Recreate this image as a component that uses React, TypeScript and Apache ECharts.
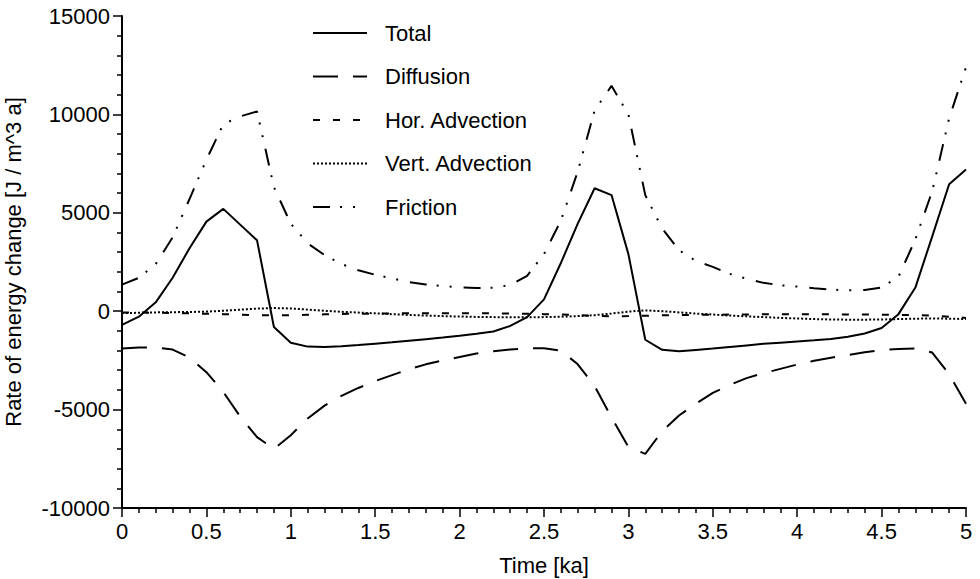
import React, { useEffect, useRef } from "react";
import * as echarts from "echarts";

// Time axis samples [ka]
const TIME = [
  0, 0.1, 0.2, 0.3, 0.4, 0.5, 0.6, 0.7, 0.8, 0.9,
  1.0, 1.1, 1.2, 1.3, 1.4, 1.5, 1.6, 1.7, 1.8, 1.9,
  2.0, 2.1, 2.2, 2.3, 2.4, 2.5, 2.6, 2.7, 2.8, 2.9,
  3.0, 3.1, 3.2, 3.3, 3.4, 3.5, 3.6, 3.7, 3.8, 3.9,
  4.0, 4.1, 4.2, 4.3, 4.4, 4.5, 4.6, 4.7, 4.8, 4.9,
  5.0,
];

// Rates of energy change [J / m^3 a]
const TOTAL = [
  -700, -280, 450, 1700, 3200, 4550, 5200, 4400, 3600, -800,
  -1600, -1800, -1820, -1780, -1720, -1650, -1580, -1500, -1420, -1340,
  -1250, -1150, -1030, -750, -300, 600, 2450, 4450, 6250, 5900,
  2900, -1450, -1960, -2040, -1970, -1900, -1820, -1740, -1660, -1600,
  -1540, -1480, -1410, -1300, -1130, -850, -150, 1200, 3800, 6450,
  7200,
];

const DIFFUSION = [
  -1900, -1840, -1850, -1950, -2350, -3100, -4100, -5350, -6400, -7000,
  -6300, -5450, -4800, -4300, -3900, -3550, -3250, -2950, -2700, -2500,
  -2330, -2150, -2030, -1950, -1880, -1880, -2000, -2700, -3800, -5400,
  -6900, -7250, -6100, -5300, -4700, -4150, -3750, -3400, -3150, -2930,
  -2710, -2520, -2360, -2230, -2090, -1980, -1920, -1900, -2100, -3200,
  -4700,
];

const HOR_ADVECTION = [
  -60, -70, -80, -90, -110, -130, -150, -180, -200, -210,
  -200, -180, -160, -140, -130, -120, -110, -100, -100, -100,
  -100, -100, -110, -120, -130, -150, -170, -200, -240, -260,
  -250, -230, -210, -200, -190, -180, -170, -170, -160, -160,
  -160, -160, -160, -170, -170, -180, -190, -200, -230, -280,
  -340,
];

const VERT_ADVECTION = [
  -100, -80, -60, -50, -40, -20, 20, 80, 130, 160,
  140, 80, 20, -30, -70, -110, -150, -190, -220, -250,
  -270, -290, -300, -310, -310, -300, -280, -250, -200, -120,
  -20, 40, 0, -60, -120, -170, -220, -260, -300, -340,
  -370, -400, -420, -430, -430, -420, -400, -380, -370, -380,
  -400,
];

const FRICTION = [
  1350, 1700, 2400, 3750, 5700, 7700, 9500, 9900, 10150, 6300,
  4450, 3450, 2850, 2400, 2080, 1850, 1670, 1480, 1360, 1270,
  1220, 1180, 1190, 1330, 1800, 2900, 4600, 7100, 10200, 11450,
  10000, 5900, 4200, 3100, 2550, 2250, 1900, 1650, 1440, 1320,
  1250, 1170, 1100, 1060, 1080, 1200, 1750, 3650, 6100, 9800,
  12400,
];

const SERIES_NAMES = ["Total", "Diffusion", "Hor. Advection", "Vert. Advection", "Friction"];

const FONT = "'Liberation Sans', Arial, Helvetica, sans-serif";

const pairs = (ys: number[]) => TIME.map((t, i) => [t, ys[i]]);

export default function App() {
  const ref = useRef<HTMLDivElement>(null);

  useEffect(() => {
    if (!ref.current) return;
    const chart = echarts.init(ref.current, null, { renderer: "svg" });

    const line = (name: string, ys: number[], type: any, width = 2) => ({
      name,
      type: "line",
      data: pairs(ys),
      symbol: "none",
      showSymbol: false,
      lineStyle: { color: "#000", width, type },
      itemStyle: { color: "#000" },
      emphasis: { disabled: true },
    });

    chart.setOption({
      animation: false,
      backgroundColor: "#fff",
      textStyle: { fontFamily: FONT, color: "#000" },
      grid: {
        left: 122,
        right: 14,
        top: 16,
        bottom: 71,
        containLabel: false,
        outerBoundsMode: "none",
      },
      legend: {
        data: SERIES_NAMES,
        orient: "vertical",
        left: 312,
        top: 22,
        padding: 0,
        itemWidth: 54,
        itemHeight: 14,
        itemGap: 21.5,
        selectedMode: false,
        itemStyle: { opacity: 0 },
        textStyle: {
          fontFamily: FONT,
          fontSize: 22,
          color: "#000",
          padding: [0, 0, 0, 13],
        },
      },
      xAxis: {
        type: "value",
        min: 0,
        max: 5,
        interval: 0.5,
        name: "Time [ka]",
        nameLocation: "middle",
        nameGap: 46,
        nameTextStyle: { fontFamily: FONT, fontSize: 22, color: "#000" },
        axisLine: { onZero: false, lineStyle: { color: "#000", width: 2 } },
        axisTick: { show: true, inside: false, length: 9, lineStyle: { color: "#000", width: 1.5 } },
        minorTick: { show: true, splitNumber: 5, length: 5, lineStyle: { color: "#000", width: 1.5 } },
        axisLabel: {
          fontFamily: FONT,
          fontSize: 22,
          color: "#000",
          margin: 12,
          formatter: (v: number) => String(v),
        },
        splitLine: { show: false },
      },
      yAxis: {
        type: "value",
        min: -10000,
        max: 15000,
        interval: 5000,
        name: "Rate of energy change [J / m^3 a]",
        nameLocation: "middle",
        nameRotate: 90,
        nameGap: 98,
        nameTextStyle: { fontFamily: FONT, fontSize: 22, color: "#000" },
        axisLine: { onZero: false, lineStyle: { color: "#000", width: 2 } },
        axisTick: { show: true, inside: false, length: 9, lineStyle: { color: "#000", width: 1.5 } },
        minorTick: { show: true, splitNumber: 5, length: 5, lineStyle: { color: "#000", width: 1.5 } },
        axisLabel: {
          fontFamily: FONT,
          fontSize: 22,
          color: "#000",
          margin: 12,
          formatter: (v: number) => String(v),
        },
        splitLine: { show: false },
      },
      series: [
        line("Total", TOTAL, "solid", 2),
        line("Diffusion", DIFFUSION, [25, 15], 2),
        line("Hor. Advection", HOR_ADVECTION, [7, 13], 2),
        line("Vert. Advection", VERT_ADVECTION, [2, 2], 2),
        line("Friction", FRICTION, [17, 10, 2, 11, 2, 12], 2),
      ],
    });

    return () => chart.dispose();
  }, []);

  return (
    <div
      ref={ref}
      style={{ position: "absolute", left: 0, top: 0, width: 980, height: 579, background: "#fff" }}
    />
  );
}
